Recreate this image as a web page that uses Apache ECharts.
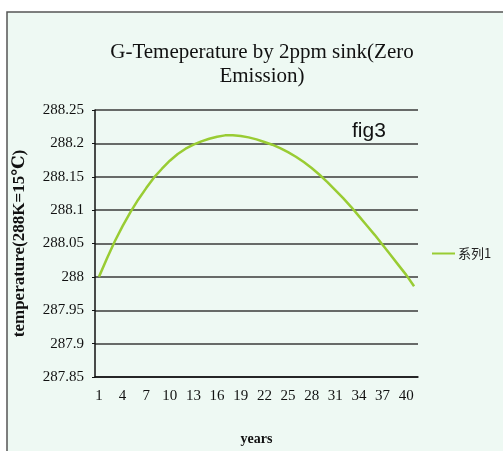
<!DOCTYPE html>
<html>
<head>
<meta charset="utf-8">
<title>G-Temeperature by 2ppm sink</title>
<script src="https://cdn.jsdelivr.net/npm/echarts@6/dist/echarts.min.js"></script>
<style>
  html, body { margin: 0; padding: 0; background: #fff; }
  #chart { width: 503px; height: 451px; }
</style>
</head>
<body>
<div id="chart"></div>
<script>
// years 1..41
var years = [];
for (var i = 1; i <= 41; i++) {
  years.push(String(i));
}

// 读图估计的温度值
var tempValues = [
  288.000, 288.027, 288.053, 288.076, 288.097, 288.116, 288.133, 288.149, 288.162, 288.174,
  288.184, 288.192, 288.198, 288.203, 288.207, 288.210, 288.212, 288.212, 288.211, 288.209,
  288.206, 288.202, 288.198, 288.193, 288.187, 288.180, 288.172, 288.163, 288.153, 288.142,
  288.130, 288.118, 288.105, 288.091, 288.077, 288.063, 288.048, 288.033, 288.018, 288.003,
  287.986
];

var seriesName = "系列1";
var yMin = 287.85;
var yMax = 288.25;
var yStep = 0.05;

var serifFont = "'Liberation Serif', 'DejaVu Serif', serif";
var lineColor = '#99cc33';

var myChart = echarts.init(document.getElementById('chart'));
var option = {
  backgroundColor: '#ffffff',
  graphic: [
    {
      type: 'rect',
      z: -10,
      silent: true,
      shape: { x: 7, y: 12, width: 600, height: 500 },
      style: { fill: '#eef9f3', stroke: '#555555', lineWidth: 1.5 }
    }
  ],
  title: [
    {
      text: 'G-Temeperature by 2ppm sink(Zero\nEmission)',
      left: 257,
      top: 35,
      textAlign: 'center',
      textStyle: {
        fontFamily: serifFont,
        fontSize: 21,
        fontWeight: 'normal',
        color: '#111',
        lineHeight: 24
      }
    },
    {
      text: 'fig3',
      left: 347,
      top: 116,
      textStyle: {
        fontFamily: "'Liberation Sans', Arial, sans-serif",
        fontSize: 21,
        fontWeight: 'normal',
        color: '#111'
      }
    }
  ],
  legend: {
    orient: 'vertical',
    left: 427,
    top: 242,
    icon: 'rect',
    itemWidth: 23,
    itemHeight: 2,
    itemGap: 4,
    data: [seriesName],
    textStyle: {
      fontFamily: "'Noto Sans CJK SC', sans-serif",
      fontSize: 13,
      color: '#222',
      padding: [0, 0, 0, -2]
    }
  },
  grid: {
    left: 95,
    top: 110,
    right: 85,
    bottom: 68,
    containLabel: false
  },
  xAxis: {
    type: 'category',
    data: years,
    boundaryGap: true,
    name: 'years',
    nameLocation: 'middle',
    nameGap: 55,
    nameTextStyle: {
      fontFamily: serifFont,
      fontSize: 14,
      fontWeight: 'bold',
      color: '#111'
    },
    axisLine: { lineStyle: { color: '#111', width: 1.5 } },
    axisTick: {
      inside: true,
      length: 6,
      interval: 0,
      lineStyle: { color: '#111', width: 1.5 }
    },
    axisLabel: {
      interval: 2,
      margin: 12,
      fontFamily: serifFont,
      fontSize: 15,
      color: '#111'
    },
    splitLine: { show: false }
  },
  yAxis: {
    type: 'value',
    min: yMin,
    max: yMax,
    interval: yStep,
    name: 'temperature(288K=15℃)',
    nameLocation: 'middle',
    nameGap: 67,
    nameTextStyle: {
      fontFamily: serifFont,
      fontSize: 17,
      fontWeight: 'bold',
      color: '#111'
    },
    axisLine: { show: true, lineStyle: { color: '#111', width: 1.5 } },
    axisTick: { show: true, length: 3, lineStyle: { color: '#111' } },
    axisLabel: {
      margin: 11,
      fontFamily: serifFont,
      fontSize: 15,
      color: '#111',
      formatter: function (v) {
        return String(parseFloat(v.toFixed(2)));
      }
    },
    splitLine: { show: true, lineStyle: { color: '#3a3a3a', width: 1.5 } }
  },
  series: [
    {
      name: seriesName,
      type: 'line',
      data: tempValues,
      symbol: 'none',
      smooth: false,
      itemStyle: { color: lineColor },
      lineStyle: { color: lineColor, width: 2.5 }
    }
  ]
};

if (option && typeof option == "object") {
  myChart.setOption(option, true);
}
</script>
</body>
</html>
